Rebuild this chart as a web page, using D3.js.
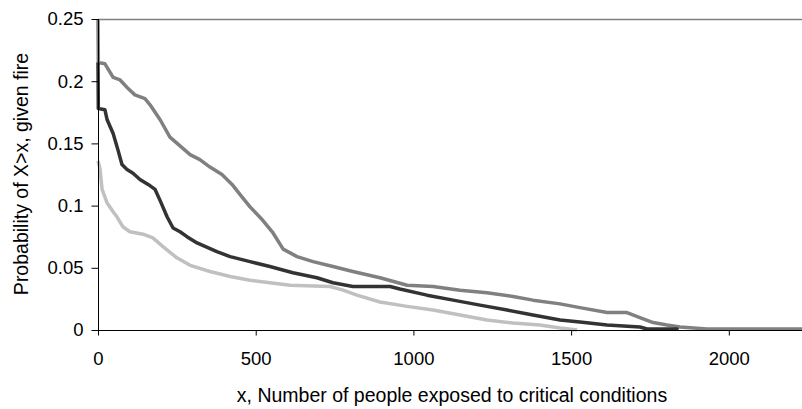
<!DOCTYPE html>
<html>
<head>
<meta charset="utf-8">
<script src="https://cdn.jsdelivr.net/npm/d3@7/dist/d3.min.js"></script>
<style>
  html, body { margin: 0; padding: 0; background: #fff; }
  svg { display: block; }
  text { font-family: "Liberation Sans", Arial, sans-serif; fill: #000; }
</style>
</head>
<body>
<svg id="chart" width="802" height="409"></svg>
<script>
// ---- data ----
const xTicks = [0, 500, 1000, 1500, 2000];
const yTicks = [0, 0.05, 0.1, 0.15, 0.2, 0.25];
const xTitle = "x, Number of people exposed to critical conditions";
const yTitle = "Probability of X>x, given fire";

const seriesNames = ["upper", "middle", "lower"];
const seriesColors = ["#808080", "#333333", "#c0c0c0"];

const upperX = [0, 1, 22, 48, 70, 92, 117, 149, 165, 197, 228, 260, 292, 323, 355, 393, 425, 450, 482, 523, 555, 587, 631, 682, 745, 808, 894, 980, 1062, 1148, 1233, 1316, 1379, 1465, 1528, 1614, 1677, 1718, 1760, 1804, 1845, 1931, 2240];
const upperP = [0.25, 0.215, 0.214, 0.203, 0.201, 0.195, 0.189, 0.186, 0.181, 0.169, 0.155, 0.148, 0.141, 0.137, 0.131, 0.125, 0.117, 0.109, 0.099, 0.088, 0.078, 0.065, 0.059, 0.055, 0.051, 0.047, 0.042, 0.036, 0.035, 0.032, 0.030, 0.027, 0.024, 0.021, 0.018, 0.014, 0.014, 0.010, 0.006, 0.004, 0.0024, 0.0008, 0.0008];

const middleX = [0, 1, 22, 29, 48, 63, 76, 92, 111, 133, 159, 181, 197, 219, 238, 260, 282, 314, 377, 419, 482, 545, 618, 694, 745, 808, 926, 957, 1043, 1126, 1211, 1297, 1379, 1465, 1528, 1614, 1718, 1741, 1836, 1837];
const middleP = [0.215, 0.178, 0.177, 0.169, 0.158, 0.145, 0.133, 0.129, 0.126, 0.121, 0.117, 0.113, 0.104, 0.091, 0.082, 0.079, 0.075, 0.070, 0.063, 0.059, 0.055, 0.051, 0.046, 0.042, 0.038, 0.035, 0.035, 0.033, 0.028, 0.024, 0.020, 0.016, 0.012, 0.008, 0.0064, 0.004, 0.0024, 0.0008, 0.0008, 0];

const lowerX = [0, 6, 13, 29, 48, 60, 79, 101, 143, 174, 206, 250, 292, 355, 419, 482, 545, 609, 736, 777, 821, 894, 980, 1062, 1148, 1233, 1316, 1401, 1465, 1519];
const lowerP = [0.136, 0.13, 0.113, 0.102, 0.095, 0.091, 0.083, 0.079, 0.077, 0.074, 0.067, 0.058, 0.052, 0.047, 0.043, 0.040, 0.038, 0.036, 0.035, 0.032, 0.028, 0.0225, 0.019, 0.016, 0.012, 0.008, 0.0056, 0.004, 0.0016, 0];

const seriesX = [upperX, middleX, lowerX];
const seriesP = [upperP, middleP, lowerP];

// ---- layout ----
const mLeft = 98, mTop = 19, mRight = 802, mBottom = 330;

const svg = d3.select("#chart");
const x = d3.scaleLinear().domain([0, 2232]).range([mLeft, mRight]);
const y = d3.scaleLinear().domain([0, 0.25]).range([mBottom, mTop]);

// top border
svg.append("line")
  .attr("x1", mLeft).attr("x2", mRight)
  .attr("y1", y(0.25) + 0.5).attr("y2", y(0.25) + 0.5)
  .attr("stroke", "#808080").attr("stroke-width", 1.5);

svg.append("defs").append("clipPath").attr("id", "clip")
  .append("rect").attr("x", mLeft - 2).attr("y", mTop).attr("width", mRight - mLeft + 2).attr("height", mBottom - mTop + 2);

// series
const line = d3.line()
  .x(d => x(d[0]))
  .y(d => y(d[1]))
  .curve(d3.curveLinear);

const order = [2, 0, 1];
order.forEach(i => {
  const pts = seriesX[i].map((v, k) => [v, seriesP[i][k]]);
  svg.append("path")
    .datum(pts)
    .attr("clip-path", "url(#clip)")
    .attr("fill", "none")
    .attr("stroke", seriesColors[i])
    .attr("stroke-width", 3.5)
    .attr("stroke-linejoin", "round")
    .attr("d", line);
});

// axes
const yAxis = d3.axisLeft(y).tickValues(yTicks).tickSize(7).tickPadding(8)
  .tickFormat(d => String(+d.toFixed(2)));
const gy = svg.append("g").attr("transform", `translate(${mLeft + 0.5},0)`).call(yAxis);
gy.select(".domain").attr("stroke", "#000").attr("d", `M0,${mTop}V${mBottom + 0.5}`);
gy.selectAll(".tick line").attr("stroke", "#000");
gy.selectAll("text").style("font-size", "18.5px").attr("font-family", null);

const xAxis = d3.axisBottom(x).tickValues(xTicks).tickSize(5).tickPadding(16)
  .tickFormat(d3.format("d"));
const gx = svg.append("g").attr("transform", `translate(0,${mBottom + 0.5})`).call(xAxis);
gx.select(".domain").attr("stroke", "#000").attr("d", `M${mLeft},0H${mRight}`);
gx.selectAll(".tick line").attr("stroke", "#000");
gx.selectAll("text").style("font-size", "18.5px").attr("font-family", null);

// titles
svg.append("text")
  .attr("x", 452).attr("y", 402)
  .attr("text-anchor", "middle")
  .style("font-size", "19.5px")
  .text(xTitle);

svg.append("text")
  .attr("transform", `translate(28,174) rotate(-90)`)
  .attr("text-anchor", "middle")
  .style("font-size", "19.5px")
  .text(yTitle);
</script>
</body>
</html>
